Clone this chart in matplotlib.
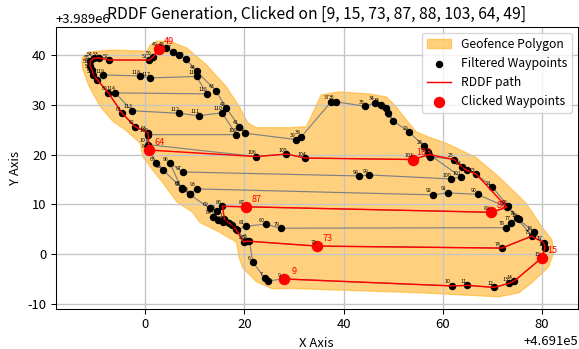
import matplotlib
matplotlib.use('Agg')
import matplotlib.pyplot as plt

plt.rcParams['font.family'] = ['Noto Sans CJK KR', 'DejaVu Sans']
plt.rcParams['axes.unicode_minus'] = False

# UTM-like base coordinates (offsets shown by the axis formatter)
X0 = 469100.0
Y0 = 3989000.0

# Filtered waypoints, index 1..N (local coordinates relative to X0/Y0)
wp_x = [16.0, 17.0, 18.3, 19.9, 21.0, 21.7, 24.1, 24.8, 27.9, 61.8,
        64.9, 70.4, 73.3, 74.3, 79.9, 80.6, 80.3, 78.3, 75.3, 73.2,
        70.0, 66.7, 64.9, 63.9, 62.3, 57.5, 57.0, 56.2, 53.2, 50.0,
        48.9, 48.5, 47.5, 46.4, 44.4, 38.5, 37.5, 31.5, 30.5, 20.2,
        19.0, 16.4, 14.3, 10.4, 8.2, 6.8, 5.6, 4.2, 2.8, 1.6,
        0.8, -7.2, -9.2, -10.3, -11.0, -11.1, -10.7, -10.4, -9.6, -7.4,
        -4.6, -2.0, 0.6, 0.8, 2.3, 3.6, 7.4, 9.0, 13.0, 14.7,
        17.5, 20.6, 34.7, 71.9, 77.9, 74.9, 73.8, 72.7, 27.3, 24.3,
        20.3, 18.5, 15.7, 13.7, 14.4, 15.6, 20.3, 69.7, 72.9, 67.0,
        61.0, 58.0, 10.4, 9.0, 7.4, 5.0, 7.6, 43.2, 45.2, 61.6,
        63.6, 57.3, 54.0, 32.3, 28.5, 22.4, 0.5, 0.6, 18.4, 15.5,
        10.8, 6.8, -2.6, -6.0, 12.4, 10.4, 1.0, -1.0, -8.4]
wp_y = [7.0, 6.2, 5.0, 2.4, 2.7, -1.6, -4.8, -5.4, -5.0, -6.4,
        -6.3, -6.7, -5.9, -5.5, -0.8, 1.2, 2.3, 4.4, 7.0, 9.6,
        13.4, 16.1, 16.8, 17.5, 19.0, 19.6, 20.5, 21.7, 24.5, 26.8,
        28.4, 29.3, 30.0, 30.4, 29.7, 30.6, 30.6, 23.6, 23.0, 24.3,
        25.6, 29.3, 32.8, 36.7, 39.3, 40.0, 40.7, 41.4, 41.3, 39.6,
        39.0, 39.0, 39.4, 39.4, 38.8, 37.9, 37.0, 36.0, 35.0, 32.4,
        28.3, 25.6, 24.4, 20.9, 18.3, 16.9, 13.3, 12.0, 9.2, 6.8,
        5.8, 2.6, 1.6, 1.2, 3.6, 7.3, 6.3, 5.3, 5.2, 6.0,
        5.6, 4.8, 6.4, 7.5, 8.6, 9.6, 9.5, 8.4, 9.4, 12.0,
        12.3, 11.9, 13.1, 12.1, 13.1, 18.3, 16.5, 15.7, 15.9, 15.1,
        15.5, 20.0, 19.0, 19.3, 20.1, 19.6, 22.0, 24.0, 24.0, 28.4,
        27.8, 28.3, 28.8, 32.4, 32.2, 35.7, 35.4, 35.8, 36.0]

# RDDF path, as waypoint indices
rddf_idx = [9, 10, 11, 12, 13, 14, 15, 16, 17, 75, 74, 73, 72, 4, 3, 2, 1,
            86, 87, 88, 89, 22, 23, 24, 25, 102, 103, 104, 105, 106, 64,
            63, 62, 61, 60, 59, 58, 57, 56, 55, 54, 53, 52, 51, 50, 49]

# Clicked waypoints
clicked = [9, 15, 73, 87, 88, 103, 64, 49]

# Geofence polygon vertices (local coordinates)
geo_x = [-12.7, -11.4, -7.0, 0.4, 1.0, 2.4, 5.0, 8.4, 12.4, 16.4, 19.0, 20.7,
         22.4, 29.0, 32.5, 35.5, 39.0, 45.0, 48.6, 50.6, 52.6, 54.6, 57.2,
         60.6, 66.7, 71.3, 76.7, 80.0, 82.0, 82.3, 81.3, 77.9, 75.3, 71.3,
         55.8, 29.0, 25.7, 22.5, 19.7, 19.0, 18.4, 15.0, 13.0, 11.0, 9.6,
         6.4, 3.6, 2.0, -0.4, -1.0, -4.0, -6.4, -9.0, -11.4, -12.7]
geo_y = [39.4, 40.6, 41.0, 40.8, 42.0, 42.8, 42.8, 41.4, 38.0, 33.6, 29.6, 26.4,
         25.4, 25.4, 25.6, 32.0, 32.6, 32.2, 31.6, 29.6, 27.0, 24.6, 23.5,
         22.3, 19.4, 15.5, 10.3, 5.4, 2.8, 0.2, -2.6, -5.8, -7.8, -8.6,
         -7.8, -6.9, -7.0, -5.6, -2.8, -0.8, 2.4, 4.4, 5.4, 6.4, 8.4,
         10.5, 14.3, 16.3, 19.5, 22.3, 25.0, 26.6, 29.6, 34.0, 37.6]

title = "RDDF Generation, Clicked on [9, 15, 73, 87, 88, 103, 64, 49]"

DPI = 94
fig = plt.figure(figsize=(579 / DPI, 349 / DPI), dpi=DPI)
ax = fig.add_axes([0.0962, 0.1138, 0.9018, 0.8097])

gx = [X0 + v for v in geo_x]
gy = [Y0 + v for v in geo_y]
ax.fill(gx, gy, color='orange', alpha=0.5, label='Geofence Polygon', zorder=1)

px = [X0 + v for v in wp_x]
py = [Y0 + v for v in wp_y]
ax.plot(px, py, color='gray', lw=0.9, zorder=2)
ax.scatter(px, py, color='black', s=22, label='Filtered Waypoints', zorder=3)

rx = [px[i - 1] for i in rddf_idx]
ry = [py[i - 1] for i in rddf_idx]
ax.plot(rx, ry, color='red', lw=1.1, label='RDDF path', zorder=4)

cx = [px[i - 1] for i in clicked]
cy = [py[i - 1] for i in clicked]
ax.scatter(cx, cy, color='red', s=60, label='Clicked Waypoints', zorder=5)

for i, (x, y) in enumerate(zip(px, py), start=1):
    ax.annotate(str(i), (x, y), xytext=(-3, 3), textcoords='offset points',
                fontsize=4, ha='center', va='center', color='black', zorder=6)
for i, x, y in zip(clicked, cx, cy):
    ax.annotate(str(i), (x, y), xytext=(8, 5.5), textcoords='offset points',
                fontsize=7, ha='center', va='center', color='red', zorder=6)

ax.set_xlim(X0 - 18.0, X0 + 87.2)
ax.set_ylim(Y0 - 11.1, Y0 + 45.7)
ax.grid(True, color='#c4c4c4', lw=1.0)
ax.set_title(title, fontsize=12, y=1.0, pad=6)
ax.set_xlabel('X Axis', fontsize=10)
ax.set_ylabel('Y Axis', fontsize=10)
ax.tick_params(labelsize=10)
ax.legend(loc='upper right', fontsize=9.3)

fig.savefig('out.png', dpi=DPI)
